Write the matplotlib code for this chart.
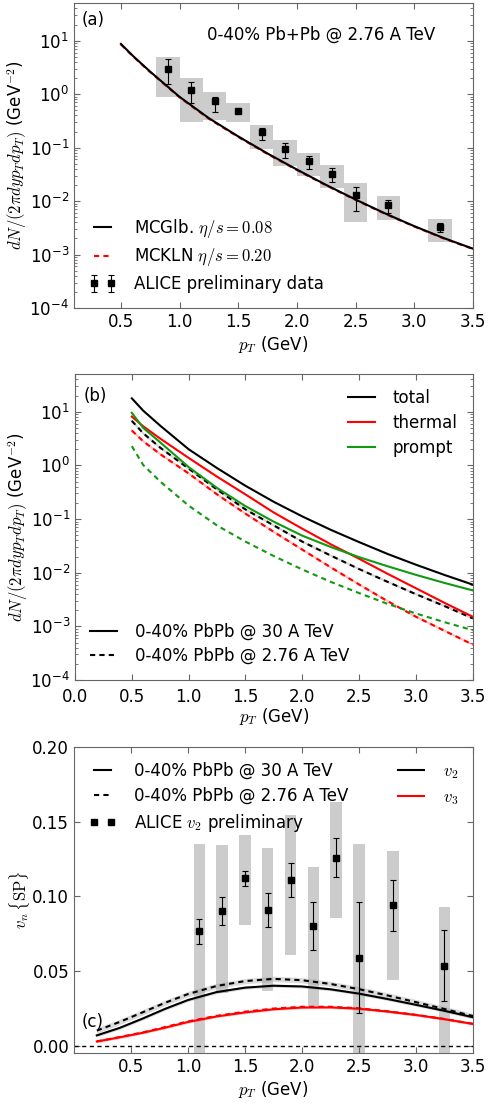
import matplotlib
matplotlib.use('Agg')
import matplotlib.pyplot as plt
from matplotlib.lines import Line2D
import numpy as np

# ---------------- data ----------------
# (a) spectra vs ALICE
pt_a_curve = [0.5, 0.6, 0.75, 1.0, 1.25, 1.5, 1.75, 2.0, 2.25, 2.5, 2.75, 3.0, 3.25, 3.5]
mcglb = [8.7, 5.25, 2.63, 0.89, 0.355, 0.162, 0.0776, 0.0389, 0.020, 0.0107, 0.0059, 0.0034, 0.00204, 0.00129]
mckln = [8.5, 5.15, 2.57, 0.87, 0.345, 0.158, 0.0757, 0.038, 0.0196, 0.0105, 0.0058, 0.00335, 0.0020, 0.00127]

alice_pt = [0.9, 1.1, 1.3, 1.5, 1.7, 1.9, 2.1, 2.3, 2.5, 2.78, 3.22]
alice_y = [2.97, 1.2, 0.74, 0.49, 0.195, 0.095, 0.055, 0.0326, 0.0132, 0.0086, 0.0033]
alice_stat_lo = [1.55, 0.68, 0.47, 0.47, 0.136, 0.065, 0.040, 0.023, 0.0065, 0.0061, 0.0026]
alice_stat_hi = [4.6, 1.67, 0.90, 0.51, 0.23, 0.121, 0.069, 0.042, 0.0183, 0.0107, 0.0039]
alice_sys_lo = [0.9, 0.30, 0.33, 0.30, 0.094, 0.045, 0.030, 0.0178, 0.0041, 0.0045, 0.0017]
alice_sys_hi = [4.9, 1.98, 1.12, 0.68, 0.27, 0.14, 0.079, 0.048, 0.022, 0.0123, 0.0047]

# (b) total / thermal / prompt at two energies
pt_b = [0.5, 0.6, 0.75, 1.0, 1.25, 1.5, 1.75, 2.0, 2.25, 2.5, 2.75, 3.0, 3.25, 3.5]
total_30 = [17.8, 10.5, 5.50, 2.00, 0.891, 0.417, 0.209, 0.112, 0.0631, 0.0372, 0.0224, 0.0141, 0.0091, 0.0060]
thermal_30 = [8.13, 5.37, 3.16, 1.38, 0.617, 0.288, 0.132, 0.0661, 0.0339, 0.0182, 0.00955, 0.00513, 0.00275, 0.00151]
prompt_30 = [9.55, 5.01, 2.69, 0.933, 0.380, 0.174, 0.0891, 0.049, 0.0302, 0.0195, 0.0132, 0.00912, 0.00646, 0.00468]
total_276 = [6.76, 3.98, 2.14, 0.871, 0.355, 0.151, 0.0759, 0.038, 0.0209, 0.0117, 0.00676, 0.00398, 0.0024, 0.00141]
thermal_276 = [4.47, 2.82, 1.62, 0.708, 0.288, 0.126, 0.0575, 0.0269, 0.0126, 0.00603, 0.00295, 0.00151, 0.00083, 0.000457]
prompt_276 = [2.29, 1.02, 0.501, 0.178, 0.0759, 0.038, 0.0204, 0.0115, 0.00676, 0.00417, 0.00263, 0.00174, 0.0012, 0.00085]

# (c) flow
pt_c_curve = [0.2, 0.4, 0.6, 0.8, 1.0, 1.25, 1.5, 1.75, 2.0, 2.25, 2.5, 2.75, 3.0, 3.25, 3.5]
v2_30 = [0.0068, 0.0118, 0.0180, 0.0246, 0.0305, 0.0358, 0.0388, 0.0401, 0.0396, 0.0377, 0.0348, 0.0312, 0.0273, 0.0233, 0.0190]
v2_276 = [0.0100, 0.0158, 0.0222, 0.0287, 0.0345, 0.0399, 0.0432, 0.0447, 0.0438, 0.0413, 0.0378, 0.0336, 0.0291, 0.0245, 0.0198]
v3_30 = [0.0027, 0.0055, 0.0085, 0.0120, 0.0158, 0.0195, 0.0222, 0.0243, 0.0255, 0.0256, 0.0247, 0.0228, 0.0205, 0.0177, 0.0145]
v3_276 = [0.0028, 0.0057, 0.0088, 0.0124, 0.0162, 0.0199, 0.0227, 0.0248, 0.0260, 0.0260, 0.0250, 0.0230, 0.0206, 0.0178, 0.0146]

v2_pt = [1.1, 1.3, 1.5, 1.7, 1.9, 2.1, 2.3, 2.5, 2.8, 3.25]
v2_data = [0.0765, 0.090, 0.112, 0.091, 0.111, 0.080, 0.126, 0.059, 0.094, 0.0535]
v2_stat = [0.0086, 0.0095, 0.0053, 0.0113, 0.0112, 0.0162, 0.0128, 0.0372, 0.0170, 0.0238]
v2_sys_lo = [-0.01, 0.0355, 0.0806, 0.0363, 0.0608, 0.0267, 0.0857, -0.01, 0.0441, -0.01]
v2_sys_hi = [0.1354, 0.1343, 0.141, 0.1325, 0.1548, 0.1198, 0.163, 0.1352, 0.1307, 0.0931]

# ---------------- style ----------------
plt.rcParams['font.family'] = ['DejaVu Sans']
plt.rcParams['font.size'] = 12
plt.rcParams['mathtext.fontset'] = 'cm'
plt.rcParams['xtick.direction'] = 'in'
plt.rcParams['ytick.direction'] = 'in'
plt.rcParams['xtick.top'] = True
plt.rcParams['ytick.right'] = True
plt.rcParams['xtick.major.size'] = 4.5
plt.rcParams['ytick.major.size'] = 4.5
plt.rcParams['ytick.minor.size'] = 2.5
plt.rcParams['xtick.color'] = '0.4'
plt.rcParams['ytick.color'] = '0.4'
plt.rcParams['xtick.labelcolor'] = 'black'
plt.rcParams['ytick.labelcolor'] = 'black'
plt.rcParams['axes.edgecolor'] = '0.4'
plt.rcParams['legend.frameon'] = False
plt.rcParams['legend.fontsize'] = 12
plt.rcParams['legend.labelspacing'] = 0.4
plt.rcParams['legend.handlelength'] = 1.6
plt.rcParams['legend.handletextpad'] = 1.1

GREEN = '#119911'
BOX = '#cccccc'
DASH = (0, (2.5, 2))
ylab = r'$dN/(2\pi dy p_T dp_T)$ (GeV$^{-2}$)'

fig = plt.figure(figsize=(4.9, 11.04), dpi=100)

# ---------------- (a) ----------------
ax = fig.add_axes([0.151, 0.721, 0.814, 0.276])
ax.set_yscale('log')
ax.bar(alice_pt, np.array(alice_sys_hi) - np.array(alice_sys_lo), bottom=alice_sys_lo,
       width=0.2, color=BOX, lw=0, zorder=1)
l1, = ax.plot(pt_a_curve, mckln, color='r', ls=DASH, lw=1.5, zorder=2)
l0, = ax.plot(pt_a_curve, mcglb, color='k', lw=1.5, zorder=3)
y = np.array(alice_y)
eb = ax.errorbar(alice_pt, alice_y, yerr=[y - np.array(alice_stat_lo), np.array(alice_stat_hi) - y],
                 fmt='s', color='k', ms=5, elinewidth=0.8, capsize=2.2, capthick=0.8, zorder=4)
ax.legend([l0, l1, eb], [r'MCGlb. $\eta/s=0.08$', r'MCKLN $\eta/s=0.20$', 'ALICE preliminary data'],
          loc='lower left', numpoints=2)
ax.text(0.02, 0.945, '(a)', transform=ax.transAxes, va='center')
ax.text(0.62, 0.898, '0-40% Pb+Pb @ 2.76 A TeV', transform=ax.transAxes, ha='center', va='center')
ax.set_xlim(0.1, 3.5)
ax.set_ylim(1e-4, 50)
ax.set_xticks([0.5, 1.0, 1.5, 2.0, 2.5, 3.0, 3.5])
ax.set_xlabel('$p_T$ (GeV)', labelpad=2)
ax.set_ylabel(ylab, labelpad=0)

# ---------------- (b) ----------------
ax = fig.add_axes([0.153, 0.384, 0.812, 0.277])
ax.set_yscale('log')
ax.plot(pt_b, total_276, color='0.6', lw=1.5, alpha=0.4)
ax.plot(pt_b, thermal_276, color='r', lw=1.5, alpha=0.25)
ax.plot(pt_b, total_276, color='k', ls=DASH, lw=1.5)
ax.plot(pt_b, thermal_276, color='r', ls=DASH, lw=1.5)
ax.plot(pt_b, prompt_276, color=GREEN, ls=DASH, lw=1.5)
ax.plot(pt_b, total_30, color='k', lw=1.5)
ax.plot(pt_b, thermal_30, color='r', lw=1.5)
ax.plot(pt_b, prompt_30, color=GREEN, lw=1.5)
leg1 = ax.legend([Line2D([], [], color=c, lw=1.5) for c in ['k', 'r', GREEN]],
                 ['total', 'thermal', 'prompt'], loc='upper right')
ax.add_artist(leg1)
ax.legend([Line2D([], [], color='k', lw=1.5), Line2D([], [], color='k', ls=DASH, lw=1.5)],
          ['0-40% PbPb @ 30 A TeV', '0-40% PbPb @ 2.76 A TeV'], loc='lower left')
ax.text(0.022, 0.93, '(b)', transform=ax.transAxes, va='center')
ax.set_xlim(0.0, 3.5)
ax.set_ylim(1e-4, 50)
ax.tick_params(axis='x', pad=6)
ax.set_xlabel('$p_T$ (GeV)', labelpad=0)
ax.set_ylabel(ylab, labelpad=0)

# ---------------- (c) ----------------
ax = fig.add_axes([0.151, 0.0462, 0.814, 0.277])
ax.bar(v2_pt, np.array(v2_sys_hi) - np.array(v2_sys_lo), bottom=v2_sys_lo,
       width=0.1, color=BOX, lw=0, zorder=1)
ax.axhline(0.0, color='k', ls=(0, (3, 2.5)), lw=1, zorder=2)
ax.fill_between(pt_c_curve, np.array(v2_276) - 0.0018, np.array(v2_276) + 0.0018,
                color='0.6', alpha=0.35, lw=0, zorder=2)
ax.fill_between(pt_c_curve, np.array(v2_30) - 0.0010, np.array(v2_30) + 0.0010,
                color='0.6', alpha=0.35, lw=0, zorder=2)
ax.fill_between(pt_c_curve, np.array(v3_30) - 0.0008, np.array(v3_30) + 0.0008,
                color='r', alpha=0.25, lw=0, zorder=2)
ax.plot(pt_c_curve, v2_276, color='k', ls=DASH, lw=1.5, zorder=3)
ax.plot(pt_c_curve, v2_30, color='k', lw=1.5, zorder=3)
ax.plot(pt_c_curve, v3_276, color='r', ls=DASH, lw=1.5, zorder=3)
ax.plot(pt_c_curve, v3_30, color='r', lw=1.5, zorder=3)
ax.errorbar(v2_pt, v2_data, yerr=v2_stat, fmt='s', color='k', ms=5,
            elinewidth=0.8, capsize=2.2, capthick=0.8, zorder=4)
h_sq = Line2D([], [], marker='s', color='k', ls='', ms=5)
leg1 = ax.legend([Line2D([], [], color='k', lw=1.5), Line2D([], [], color='k', ls=DASH, lw=1.5), h_sq],
                 ['0-40% PbPb @ 30 A TeV', '0-40% PbPb @ 2.76 A TeV', r'ALICE $v_2$ preliminary'],
                 loc='upper left', numpoints=2)
ax.add_artist(leg1)
ax.legend([Line2D([], [], color='k', lw=1.5), Line2D([], [], color='r', lw=1.5)],
          ['$v_2$', '$v_3$'], loc='upper right')
ax.text(0.02, 0.1, '(c)', transform=ax.transAxes, va='center')
ax.set_xlim(0.0, 3.5)
ax.set_ylim(-0.005, 0.2)
ax.set_xticks([0.5, 1.0, 1.5, 2.0, 2.5, 3.0, 3.5])
ax.set_yticks([0.0, 0.05, 0.10, 0.15, 0.20])
ax.set_yticklabels(['0.00', '0.05', '0.10', '0.15', '0.20'])
ax.set_xlabel('$p_T$ (GeV)', labelpad=2)
ax.set_ylabel(r'$v_n\,\{\mathrm{SP}\}$', labelpad=0)

fig.savefig('out.png', dpi=100)
